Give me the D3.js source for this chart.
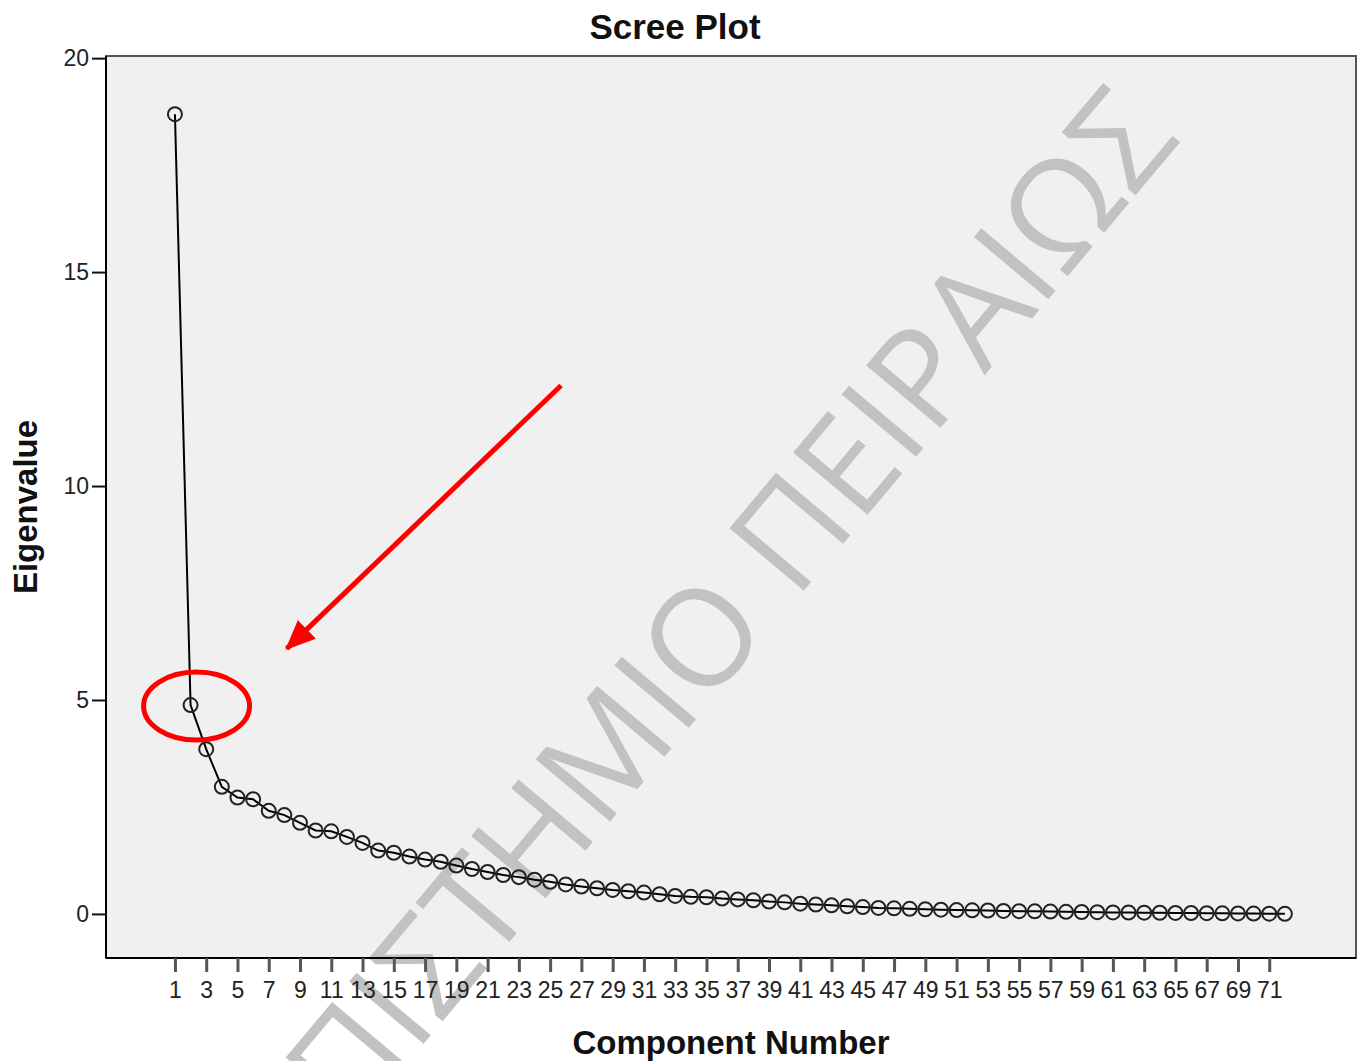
<!DOCTYPE html>
<html>
<head>
<meta charset="utf-8">
<script src="https://cdn.jsdelivr.net/npm/d3@7"></script>
<style>
    html, body { margin: 0; padding: 0; background: #fff; }
    svg { display: block; font-family: "Liberation Sans", Arial, sans-serif; }
</style>
</head>
<body>
<div id="chart"></div>
<script>
// Component numbers and their eigenvalues
const components = d3.range(1, 73);
const eigenvalues = [
    18.69, 4.88, 3.85, 2.97, 2.72, 2.68, 2.41, 2.31, 2.13, 1.95,
    1.93, 1.80, 1.66, 1.48, 1.43, 1.34, 1.27, 1.22, 1.13, 1.05,
    0.98, 0.91, 0.86, 0.80, 0.75, 0.69, 0.64, 0.60, 0.56, 0.53,
    0.50, 0.46, 0.42, 0.40, 0.39, 0.36, 0.34, 0.32, 0.29, 0.27,
    0.24, 0.22, 0.20, 0.18, 0.16, 0.14, 0.13, 0.12, 0.11, 0.10,
    0.09, 0.085, 0.08, 0.07, 0.065, 0.06, 0.055, 0.05, 0.045, 0.04,
    0.036, 0.033, 0.03, 0.027, 0.024, 0.021, 0.018, 0.015, 0.012, 0.009,
    0.006, 0.003
];
const xTicks = d3.range(1, 72, 2);
const yTicks = [0, 5, 10, 15, 20];

const titleText = "Scree Plot";
const xTitle = "Component Number";
const yTitle = "Eigenvalue";
const watermark = "ΠΑΝΕΠΙΣΤΗΜΙΟ ΠΕΙΡΑΙΩΣ";

// annotation: highlighted component and arrow (in data units)
const highlight = 2;
const arrowFrom = [25.7, 12.35];
const arrowTo = [8.15, 6.2];

const width = 1361;
const height = 1061;
const box = { left: 106, top: 56, right: 1356, bottom: 958 };

const svg = d3.select("#chart")
    .append("svg")
    .attr("width", width)
    .attr("height", height);

const x = d3.scaleLinear().domain([-3.41, 76.55]).range([box.left, box.right]);
const y = d3.scaleLinear().domain([-1.03, 20.05]).range([box.bottom, box.top]);

// plot background
svg.append("rect")
    .attr("x", box.left)
    .attr("y", box.top)
    .attr("width", box.right - box.left)
    .attr("height", box.bottom - box.top)
    .attr("fill", "#f0f0f0");

// watermark
svg.append("text")
    .attr("transform", "translate(1182,140) rotate(-50)")
    .attr("text-anchor", "end")
    .attr("font-family", "'Open Sans', sans-serif")
    .attr("font-size", 136)
    .attr("letter-spacing", 0)
    .attr("fill", "#c2c2c2")
    .text(watermark);

// frame
svg.append("rect")
    .attr("x", box.left)
    .attr("y", box.top)
    .attr("width", box.right - box.left)
    .attr("height", box.bottom - box.top)
    .attr("fill", "none")
    .attr("stroke", "#555")
    .attr("stroke-width", 2);

// y axis
const yAxis = svg.append("g")
    .attr("transform", `translate(${box.left},0)`)
    .call(d3.axisLeft(y).tickValues(yTicks).tickSize(14).tickPadding(3));
yAxis.select(".domain").attr("stroke", "#000").attr("stroke-width", 2)
    .attr("d", `M0,${box.top}V${box.bottom}`);
yAxis.selectAll(".tick line").attr("stroke", "#111").attr("stroke-width", 2);
yAxis.selectAll(".tick text").attr("font-size", 23).attr("fill", "#222")
    .attr("font-family", "'Liberation Sans', Arial, sans-serif");

// x axis
const xAxis = svg.append("g")
    .attr("transform", `translate(0,${box.bottom})`)
    .call(d3.axisBottom(x).tickValues(xTicks).tickSize(14).tickPadding(10));
xAxis.select(".domain").attr("stroke", "#000").attr("stroke-width", 2)
    .attr("d", `M${box.left},0H${box.right}`);
xAxis.selectAll(".tick line").attr("stroke", "#555").attr("stroke-width", 3);
xAxis.selectAll(".tick text").attr("font-size", 23).attr("fill", "#222")
    .attr("font-family", "'Liberation Sans', Arial, sans-serif");

// line + circles
const points = components.map((c, i) => [c, eigenvalues[i]]);
svg.append("path")
    .datum(points)
    .attr("fill", "none")
    .attr("stroke", "#000")
    .attr("stroke-width", 2)
    .attr("d", d3.line().x((d) => x(d[0])).y((d) => y(d[1])));

svg.append("g")
    .selectAll("circle")
    .data(points)
    .enter()
    .append("circle")
    .attr("cx", (d) => x(d[0]))
    .attr("cy", (d) => y(d[1]))
    .attr("r", 7)
    .attr("fill", "none")
    .attr("stroke", "#222")
    .attr("stroke-width", 2);

// titles
svg.append("text")
    .attr("x", 675)
    .attr("y", 39)
    .attr("text-anchor", "middle")
    .attr("font-size", 35)
    .attr("font-weight", "bold")
    .attr("fill", "#111")
    .text(titleText);

svg.append("text")
    .attr("x", (box.left + box.right) / 2)
    .attr("y", 1054)
    .attr("text-anchor", "middle")
    .attr("font-size", 33)
    .attr("font-weight", "bold")
    .attr("fill", "#111")
    .text(xTitle);

svg.append("text")
    .attr("transform", `translate(37,${(box.top + box.bottom) / 2}) rotate(-90)`)
    .attr("text-anchor", "middle")
    .attr("font-size", 33)
    .attr("font-weight", "bold")
    .attr("fill", "#111")
    .text(yTitle);

// red annotations
const hi = eigenvalues[highlight - 1];
svg.append("ellipse")
    .attr("cx", x(highlight) + 6)
    .attr("cy", y(hi) + 1)
    .attr("rx", 53)
    .attr("ry", 34)
    .attr("fill", "none")
    .attr("stroke", "#f00")
    .attr("stroke-width", 5);

svg.append("defs").append("marker")
    .attr("id", "head")
    .attr("markerUnits", "userSpaceOnUse")
    .attr("viewBox", "0 0 30 26")
    .attr("refX", 28)
    .attr("refY", 13)
    .attr("markerWidth", 30)
    .attr("markerHeight", 26)
    .attr("orient", "auto")
    .append("path")
    .attr("d", "M0,0L30,13L0,26Z")
    .attr("fill", "#f00");

svg.append("line")
    .attr("x1", x(arrowFrom[0]))
    .attr("y1", y(arrowFrom[1]))
    .attr("x2", x(arrowTo[0]))
    .attr("y2", y(arrowTo[1]))
    .attr("stroke", "#f00")
    .attr("stroke-width", 5)
    .attr("marker-end", "url(#head)");
</script>
</body>
</html>
